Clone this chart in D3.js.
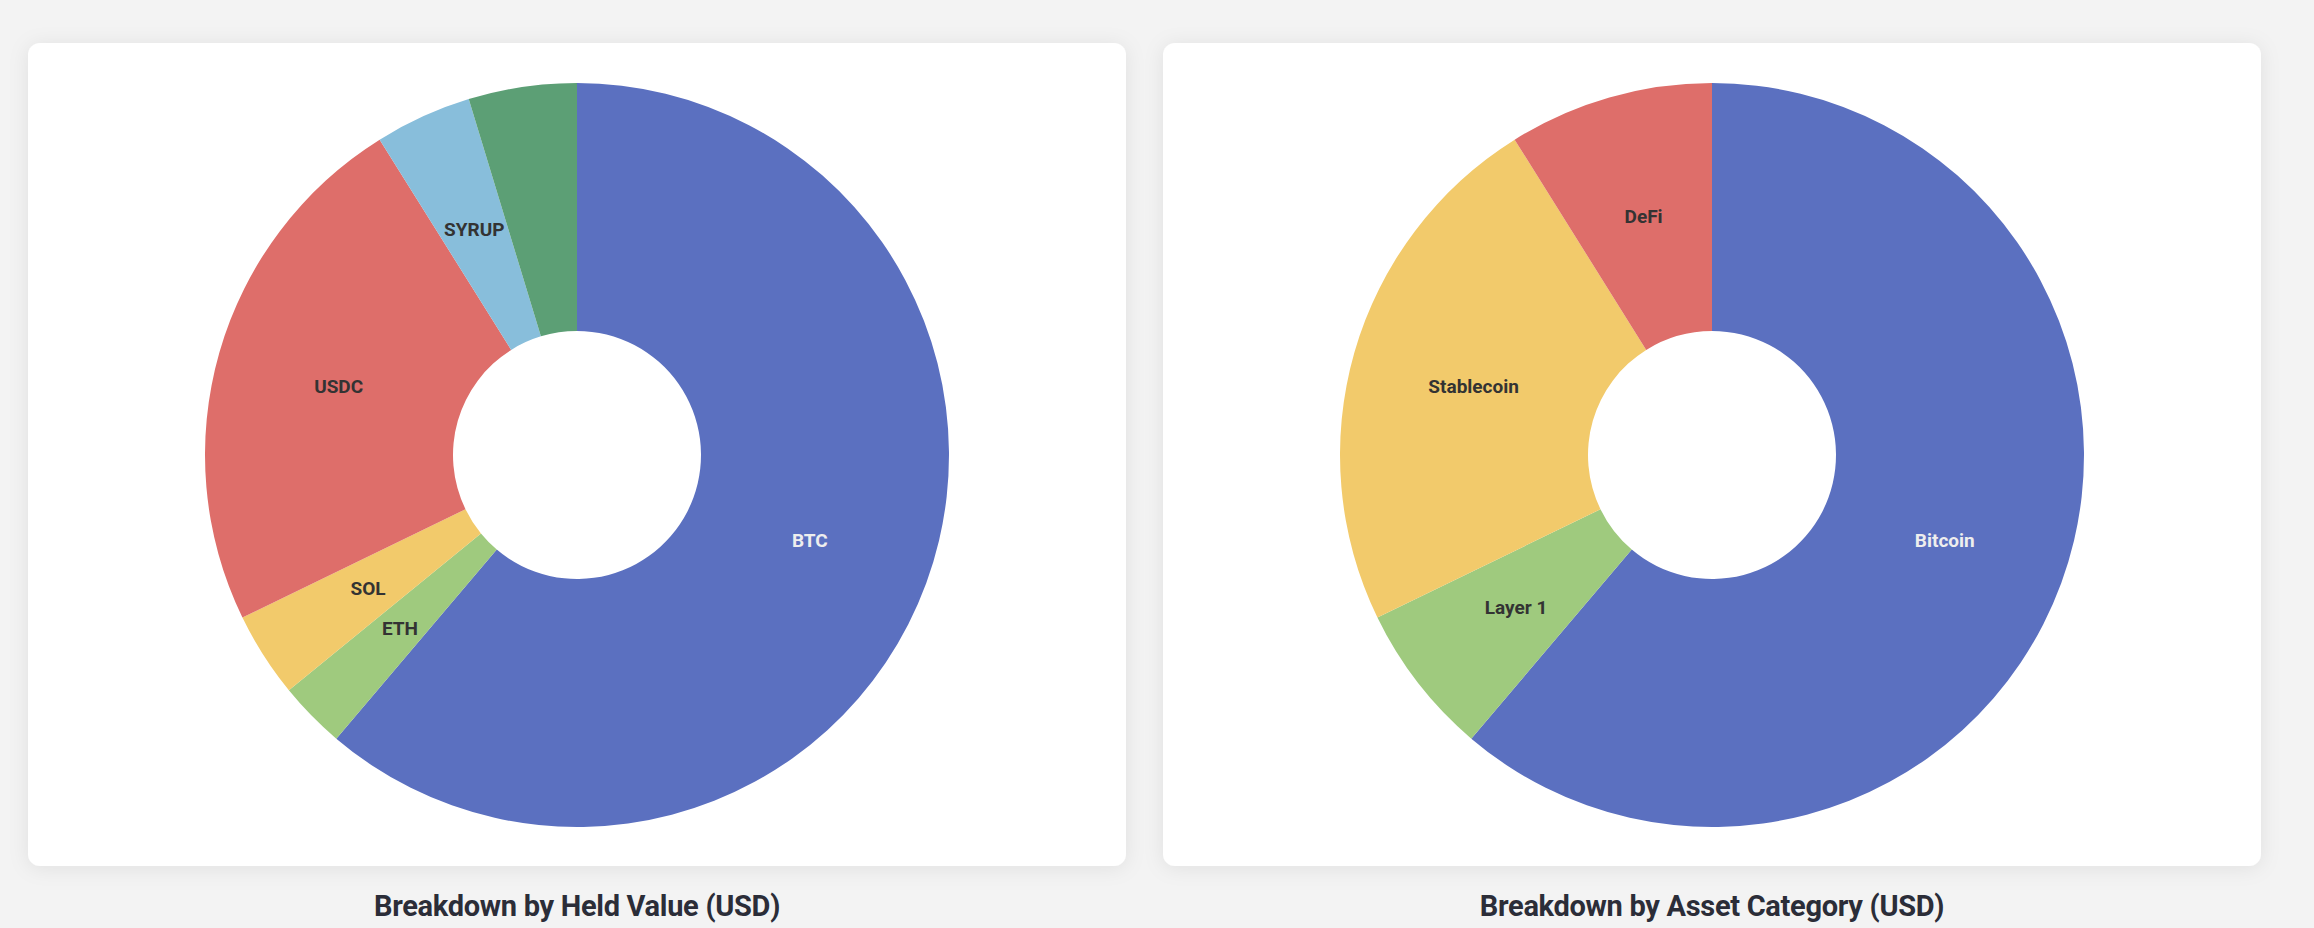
<!DOCTYPE html><html><head><meta charset="utf-8">
<script src="https://cdn.jsdelivr.net/npm/d3@7"></script>
<style>body{margin:0;background:#f3f3f3;}svg{display:block}</style></head><body>
<svg id="c" width="2314" height="928"></svg>
<script>
const heldNames = ["BTC","ETH","SOL","USDC","SYRUP","Other"];
const heldValues = [61.2, 2.9, 3.7, 23.3, 4.2, 4.7];
const heldColors = ["#5b70c0","#9fca7e","#f2ca6b","#de6e6a","#88bedb","#5c9f75"];
const heldLabels = [true,true,true,true,true,false];
const catNames = ["Bitcoin","Layer 1","Stablecoin","DeFi"];
const catValues = [61.2, 6.6, 23.3, 8.9];
const catColors = ["#5b70c0","#9fca7e","#f2ca6b","#de6e6a"];
const catLabels = [true,true,true,true];
const titles = ["Breakdown by Held Value (USD)","Breakdown by Asset Category (USD)"];

const svg = d3.select("#c");
const defs = svg.append("defs");
const f = defs.append("filter").attr("id","sh").attr("x","-5%").attr("y","-5%").attr("width","110%").attr("height","110%");
f.append("feDropShadow").attr("dx",0).attr("dy",2).attr("stdDeviation",10).attr("flood-color","#000").attr("flood-opacity",0.08);

const panels = [
 {x:28, cx:577, names:heldNames, vals:heldValues, cols:heldColors, lab:heldLabels},
 {x:1163, cx:1712, names:catNames, vals:catValues, cols:catColors, lab:catLabels}
];
const R=372, r0=124, cy=455;
panels.forEach((p,i)=>{
  svg.append("rect").attr("x",p.x).attr("y",43).attr("width",1098).attr("height",823).attr("rx",12)
    .attr("fill","#fff").attr("filter","url(#sh)");
  const data = p.names.map((n,j)=>({name:n,value:p.vals[j],color:p.cols[j],show:p.lab[j]}));
  const arcs = d3.pie().sort(null).value(d=>d.value)(data);
  const arc = d3.arc().innerRadius(r0).outerRadius(R);
  const g = svg.append("g").attr("transform",`translate(${p.cx},${cy})`);
  g.selectAll("path").data(arcs).join("path").attr("d",arc).attr("fill",d=>d.data.color);
  g.selectAll("text").data(arcs.filter(d=>d.data.show)).join("text")
    .attr("transform",d=>`translate(${arc.centroid(d)})`)
    .attr("text-anchor","middle").attr("dominant-baseline","central")
    .attr("font-family","Roboto, Arial, sans-serif").attr("font-weight",700).attr("font-size",19)
    .attr("fill",(d,j)=>j===0?"#eeeeee":"#333333")
    .text(d=>d.data.name);
  svg.append("text").attr("x",p.x+549).attr("y",906).attr("text-anchor","middle").attr("dominant-baseline","central")
    .attr("font-family","Roboto, sans-serif").attr("font-weight",700).attr("font-size",29)
    .attr("fill","#2b2d38").attr("letter-spacing","-0.3").text(titles[i]);
});
</script></body></html>
